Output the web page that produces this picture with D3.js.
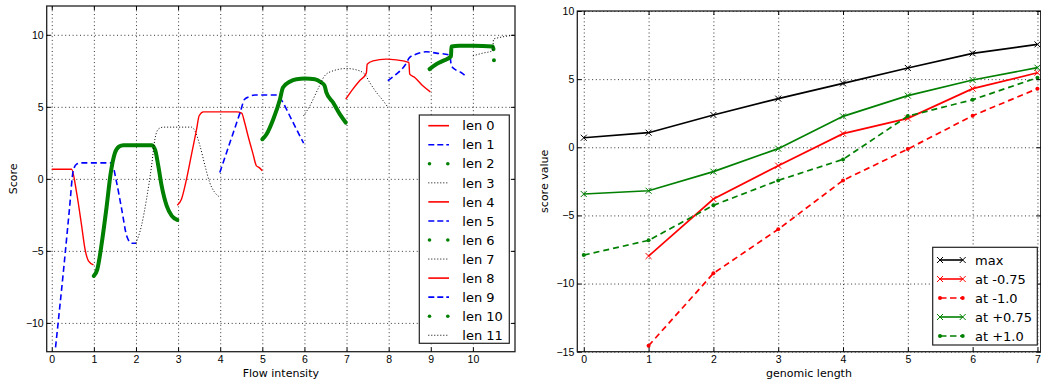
<!DOCTYPE html>
<html>
<head>
<meta charset="utf-8">
<script src="https://cdn.jsdelivr.net/npm/d3@7"></script>
<style>
  body { margin: 0; background: #fff; }
  svg { display: block; font-family: "DejaVu Sans", sans-serif; }
  .grid line { stroke: #000; stroke-width: 0.8; stroke-dasharray: 1, 2.7; }
  .tick line { stroke: #000; }
  .axis text { font-size: 10.5px; fill: #000; }
  .label { font-size: 11px; fill: #000; }
  .legend text { font-size: 13px; fill: #000; }
</style>
</head>
<body>
<svg id="chart" width="1041" height="383"></svg>
<script>
// left panel: score against flow intensity, one curve per length
const lenNames = ["len 0", "len 1", "len 2", "len 3", "len 4", "len 5",
                  "len 6", "len 7", "len 8", "len 9", "len 10", "len 11"];
const len0 = [[0, 0.67], [0.47, 0.67], [0.59, -0.95], [0.71, -3.26], [0.79, -4.88], [0.87, -5.69], [0.99, -5.97]];
const len1 = [[0.09, -11.7], [0.29, -6.04], [0.42, -2.1], [0.51, 0.56], [0.59, 1.02], [0.7, 1.11], [1.42, 1.11],
              [1.54, -0.25], [1.66, -2.1], [1.78, -3.96], [1.9, -4.47], [2.0, -4.47]];
const len2 = [[1.0, -6.74], [1.08, -6.3], [1.2, -4.2], [1.3, -2.0], [1.4, 0.4], [1.5, 1.8], [1.6, 2.25], [1.7, 2.34],
              [2.37, 2.34], [2.45, 2.06], [2.53, 0.9], [2.61, -0.49], [2.73, -1.88], [2.85, -2.57], [2.98, -2.85]];
const len3 = [[2.0, -4.47], [2.13, -3.26], [2.25, -1.41], [2.37, 0.9], [2.45, 2.76], [2.53, 3.45], [2.65, 3.59],
              [3.32, 3.59], [3.4, 3.33], [3.52, 2.29], [3.64, 0.9], [3.75, -0.25], [3.87, -0.94], [3.98, -1.25]];
const len4 = [[2.98, -1.83], [3.08, -1.41], [3.2, -0.02], [3.32, 1.72], [3.44, 3.45], [3.5, 4.38], [3.6, 4.65],
              [4.39, 4.65], [4.51, 4.56], [4.58, 3.91], [4.66, 2.99], [4.78, 1.72], [4.86, 0.9], [4.92, 0.8], [5.0, 0.56]];
const len5 = [[3.99, 0.44], [4.15, 1.82], [4.31, 3.2], [4.47, 4.58], [4.58, 5.53], [4.7, 5.72], [4.82, 5.82],
              [5.34, 5.82], [5.49, 5.3], [5.65, 4.38], [5.81, 3.45], [5.98, 2.48]];
const len6 = [[5.0, 2.75], [5.1, 3.1], [5.26, 4.14], [5.42, 5.53], [5.49, 6.34], [5.65, 6.74], [5.81, 6.92], [6.01, 6.97],
              [6.25, 6.92], [6.4, 6.69], [6.48, 6.46], [6.52, 6.0], [6.68, 5.3], [6.84, 4.49], [6.98, 3.91]];
const len7 = [[5.98, 4.38], [6.13, 5.07], [6.32, 6.23], [6.48, 7.15], [6.68, 7.5], [7.0, 7.66], [7.23, 7.57],
              [7.43, 7.27], [7.55, 6.69], [7.71, 6.0], [7.87, 5.42], [7.97, 5.02]];
const len8 = [[6.98, 5.53], [7.15, 6.23], [7.31, 6.81], [7.47, 7.34], [7.49, 7.96], [7.63, 8.19], [7.94, 8.31],
              [8.18, 8.26], [8.48, 8.08], [8.5, 7.27], [8.62, 7.04], [8.81, 6.46], [8.99, 6.04]];
const len9 = [[7.98, 6.81], [8.18, 7.27], [8.38, 7.85], [8.5, 8.43], [8.66, 8.66], [8.89, 8.82], [9.13, 8.73],
              [9.45, 8.59], [9.49, 7.85], [9.6, 7.55], [9.72, 7.38], [9.84, 7.11]];
const len10 = [[8.97, 7.62], [9.13, 7.96], [9.29, 8.19], [9.48, 8.5], [9.49, 9.19], [9.68, 9.24], [10.0, 9.24],
               [10.47, 9.19], [10.49, 9.0], null, [10.5, 8.24]];
const len11 = [[10.0, 8.54], [10.24, 8.73], [10.47, 8.89], [10.49, 9.7], [10.63, 9.81], [10.99, 9.98]];
const lenSeries = [len0, len1, len2, len3, len4, len5, len6, len7, len8, len9, len10, len11];
const flowTicks = [0, 1, 2, 3, 4, 5, 6, 7, 8, 9, 10];
const scoreTicks = [-10, -5, 0, 5, 10];

// right panel: score value against genomic length
const genomicLength = [0, 1, 2, 3, 4, 5, 6, 7];
const scoreNames = ["max", "at -0.75", "at -1.0", "at +0.75", "at +1.0"];
const maxScore = [0.70, 1.07, 2.37, 3.57, 4.69, 5.82, 6.89, 7.55];
const atMinus075 = [null, -7.98, -3.80, -1.35, 1.00, 2.12, 4.30, 5.47];
const atMinus10 = [null, -14.56, -9.25, -6.02, -2.43, -0.13, 2.32, 4.30];
const atPlus075 = [-3.43, -3.19, -1.79, -0.10, 2.27, 3.79, 4.94, 5.84];
const atPlus10 = [-7.91, -6.83, -4.26, -2.43, -0.89, 2.29, 3.49, 5.11];
const valueTicks = [-15, -10, -5, 0, 5, 10];

// line styles (left cycles through 4, right one per series)
const lenStyles = [
  { color: "#ff0000", width: 1.4, dash: null },
  { color: "#0000ff", width: 1.6, dash: "6,3.5" },
  { color: "#008000", width: 4, dash: null, dots: true },
  { color: "#000000", width: 1, dash: "1,2" }
];
const scoreStyles = [
  { color: "#000000", dash: null, marker: "x" },
  { color: "#ff0000", dash: null, marker: "x" },
  { color: "#ff0000", dash: "6,4", marker: "dot" },
  { color: "#008000", dash: null, marker: "x" },
  { color: "#008000", dash: "6,4", marker: "dot" }
];

const svg = d3.select("#chart");

function frame(g, x, y, w, h, xt, yt) {
  g.append("g").attr("class", "grid")
    .attr("transform", `translate(0,${h})`)
    .call(d3.axisBottom(x).tickValues(xt).tickSize(-h).tickFormat(""))
    .call(s => s.select(".domain").remove());
  g.append("g").attr("class", "grid")
    .call(d3.axisLeft(y).tickValues(yt).tickSize(-w).tickFormat(""))
    .call(s => s.select(".domain").remove());
}

function ticks(g, x, y, w, h, xt, yt) {
  g.append("rect").attr("width", w).attr("height", h)
    .attr("fill", "none").attr("stroke", "#222").attr("stroke-width", 1.3);
  g.append("g").attr("class", "axis").attr("transform", `translate(0,${h})`)
    .call(d3.axisBottom(x).tickValues(xt).tickSize(-4).tickPadding(4).tickFormat(d3.format("d")))
    .call(s => s.select(".domain").remove());
  g.append("g").attr("class", "axis")
    .call(d3.axisTop(x).tickValues(xt).tickSize(-4).tickFormat(""))
    .call(s => s.select(".domain").remove());
  g.append("g").attr("class", "axis")
    .call(d3.axisLeft(y).tickValues(yt).tickSize(-4).tickPadding(3).tickFormat(d3.format("d")))
    .call(s => s.select(".domain").remove());
  g.append("g").attr("class", "axis").attr("transform", `translate(${w},0)`)
    .call(d3.axisRight(y).tickValues(yt).tickSize(-4).tickFormat(""))
    .call(s => s.select(".domain").remove());
}

// ---------- left panel ----------
const L = { left: 46.7, top: 6, w: 468.3, h: 345.7 };
const xFlow = d3.scaleLinear().domain([-0.12, 11]).range([0, L.w]);
const yScore = d3.scaleLinear().domain([-12, 12]).range([L.h, 0]);
const gl = svg.append("g").attr("transform", `translate(${L.left},${L.top})`);

gl.append("defs").append("clipPath").attr("id", "clipL")
  .append("rect").attr("width", L.w).attr("height", L.h);

frame(gl, xFlow, yScore, L.w, L.h, flowTicks, scoreTicks);

const flowLine = d3.line()
  .defined(d => d !== null)
  .x(d => xFlow(d[0]))
  .y(d => yScore(d[1]))
  .curve(d3.curveMonotoneX);

gl.append("g").attr("clip-path", "url(#clipL)")
  .selectAll("path").data(lenSeries).join("path")
  .attr("fill", "none")
  .attr("stroke", (d, i) => lenStyles[i % 4].color)
  .attr("stroke-width", (d, i) => lenStyles[i % 4].width)
  .attr("stroke-dasharray", (d, i) => lenStyles[i % 4].dash)
  .attr("stroke-linecap", (d, i) => lenStyles[i % 4].dots ? "round" : "butt")
  .attr("stroke-linejoin", "round")
  .attr("d", flowLine);

ticks(gl, xFlow, yScore, L.w, L.h, flowTicks, scoreTicks);

gl.append("text").attr("class", "label")
  .attr("x", L.w / 2).attr("y", 371).attr("text-anchor", "middle")
  .text("Flow intensity");
gl.append("text").attr("class", "label")
  .attr("transform", `translate(${13 - L.left},${L.h / 2}) rotate(-90)`)
  .attr("text-anchor", "middle").attr("dy", "0.35em")
  .text("Score");

// legend left
const legL = svg.append("g").attr("class", "legend");
legL.append("rect").attr("x", 419.3).attr("y", 115).attr("width", 90).attr("height", 228.3)
  .attr("fill", "#fff").attr("stroke", "#222").attr("stroke-width", 1.2);
lenNames.forEach((name, i) => {
  const st = lenStyles[i % 4];
  const yy = 125.7 + i * 19.05;
  if (st.dots) {
    legL.append("circle").attr("cx", 429.5).attr("cy", yy).attr("r", 1.8).attr("fill", st.color);
    legL.append("circle").attr("cx", 447.8).attr("cy", yy).attr("r", 1.8).attr("fill", st.color);
  } else {
    legL.append("line").attr("x1", 428.3).attr("x2", 449).attr("y1", yy).attr("y2", yy)
      .attr("stroke", st.color).attr("stroke-width", st.dash === "1,2" ? 1 : 1.6)
      .attr("stroke-dasharray", st.dash === "6,3.5" ? "6,3" : st.dash);
  }
  legL.append("text").attr("x", 462.3).attr("y", yy).attr("dy", "0.36em").text(name);
});

// ---------- right panel ----------
const R = { left: 577.3, top: 11, w: 463.4, h: 340.7 };
const xLen = d3.scaleLinear().domain([-0.1, 7.05]).range([0, R.w]);
const yVal = d3.scaleLinear().domain([-15, 10]).range([R.h, 0]);
const gr = svg.append("g").attr("transform", `translate(${R.left},${R.top})`);

frame(gr, xLen, yVal, R.w, R.h, genomicLength, valueTicks);

const scoreSeries = [maxScore, atMinus075, atMinus10, atPlus075, atPlus10];
const valLine = d3.line()
  .defined(d => d !== null)
  .x((d, i) => xLen(genomicLength[i]))
  .y(d => yVal(d));

function drawMarker(g, st, cx, cy) {
  if (st.marker === "x") {
    const s = 3;
    g.append("path")
      .attr("d", `M${cx - s},${cy - s}L${cx + s},${cy + s}M${cx - s},${cy + s}L${cx + s},${cy - s}`)
      .attr("stroke", st.color).attr("stroke-width", 1).attr("fill", "none");
  } else {
    g.append("circle").attr("cx", cx).attr("cy", cy).attr("r", 2).attr("fill", st.color);
  }
}

scoreSeries.forEach((vals, k) => {
  const st = scoreStyles[k];
  gr.append("path").datum(vals)
    .attr("fill", "none").attr("stroke", st.color).attr("stroke-width", 1.7)
    .attr("stroke-dasharray", st.dash)
    .attr("d", valLine);
  vals.forEach((v, i) => {
    if (v !== null) drawMarker(gr, st, xLen(genomicLength[i]), yVal(v));
  });
});

ticks(gr, xLen, yVal, R.w, R.h, genomicLength, valueTicks);

gr.append("text").attr("class", "label")
  .attr("x", R.w / 2).attr("y", 371 + L.top - R.top).attr("text-anchor", "middle")
  .text("genomic length");
gr.append("text").attr("class", "label")
  .attr("transform", `translate(${544 - R.left},${R.h / 2}) rotate(-90)`)
  .attr("text-anchor", "middle").attr("dy", "0.35em")
  .text("score value");

// legend right
const legR = svg.append("g").attr("class", "legend");
legR.append("rect").attr("x", 932.7).attr("y", 247.3).attr("width", 104.6).attr("height", 97.7)
  .attr("fill", "#fff").attr("stroke", "#222").attr("stroke-width", 1.2);
scoreNames.forEach((name, i) => {
  const st = scoreStyles[i];
  const yy = 260 + i * 19;
  legR.append("line").attr("x1", 940).attr("x2", 962.7).attr("y1", yy).attr("y2", yy)
    .attr("stroke", st.color).attr("stroke-width", 1.6).attr("stroke-dasharray", st.dash ? "6.5,3.5" : null);
  drawMarker(legR, st, 940, yy);
  drawMarker(legR, st, 962.7, yy);
  legR.append("text").attr("x", 975).attr("y", yy).attr("dy", "0.36em").text(name);
});
</script>
</body>
</html>
